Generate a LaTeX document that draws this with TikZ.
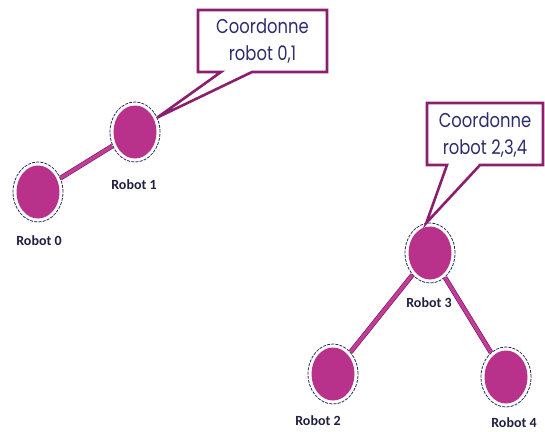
\documentclass[tikz,border=0pt]{standalone}
\usepackage{fontspec}
\usetikzlibrary{shapes.geometric}
\newfontfamily\labelfont{Carlito}
\newfontfamily\boxfont{Poppins}
\definecolor{robotfill}{HTML}{B8328C}
\definecolor{linkcore}{HTML}{C23C9A}
\definecolor{linkedge}{HTML}{7A1C5C}
\definecolor{rimcol}{HTML}{2A2A5A}
\definecolor{boxedge}{HTML}{8A1F6E}
\definecolor{boxtext}{HTML}{2E2E6E}
\definecolor{labeltext}{HTML}{1F1F3F}
\tikzset{
  x=1pt, y=-1pt,
  robot/.style={ellipse, minimum width=50pt, minimum height=60pt, inner sep=0pt,
    draw=rimcol, line width=0.8pt, dash pattern=on 3pt off 1.2pt, fill=white,
    path picture={\fill[robotfill] (path picture bounding box.center) ellipse (21.5pt and 26.5pt);}},
  robotlabel/.style={font=\labelfont\bfseries\fontsize{14}{16}\selectfont, text=labeltext, inner sep=0pt},
  link/.style={draw=linkedge, line width=0.7pt, double=linkcore, double distance=3.4pt},
  calloutshape/.style={draw=boxedge, line width=2.6pt, fill=white, line join=miter},
  callouttext/.style={font=\boxfont\fontsize{20}{27}\selectfont, text=boxtext, align=center, inner sep=0pt}
}
\begin{document}
\begin{tikzpicture}
\useasboundingbox (0,0) rectangle (545,431);

% robots
\node[robot] (r0) at (38,192) {};
\node[robot] (r1) at (135,132) {};
\node[robot] (r3) at (430,253) {};
\node[robot] (r2) at (333,374) {};
\node[robot] (r4) at (506,377) {};

% links between robots
\draw[link] (r0) -- (r1);
\draw[link] (r3) -- (r2);
\draw[link] (r3) -- (r4);

% robot names
\node[robotlabel] (l0) at (39,241) {Robot 0};
\node[robotlabel] (l1) at (134,185) {Robot 1};
\node[robotlabel] (l3) at (429,303) {Robot 3};
\node[robotlabel] (l2) at (318,421) {Robot 2};
\node[robotlabel] (l4) at (514,423) {Robot 4};

% first callout
\coordinate (b1nw) at (198,10);
\coordinate (b1se) at (327,72);
\coordinate (t1l) at (221,72);
\coordinate (t1r) at (252,72);
\coordinate (t1tip) at (r1.33);
\path[calloutshape] (b1nw) -- (b1nw -| b1se) -- (b1se) -- (t1r) -- (t1tip) -- (t1l) -- (b1nw |- b1se) -- cycle;
\node[callouttext] (c1) at (262.5,41) {\scalebox{0.82}[1]{Coordonne}\\\scalebox{0.82}[1]{robot 0,1}};

% second callout
\coordinate (b2nw) at (427,103);
\coordinate (b2se) at (543,165);
\coordinate (t2l) at (447,165);
\coordinate (t2r) at (480,165);
\coordinate (t2tip) at (r3.97);
\path[calloutshape] (b2nw) -- (b2nw -| b2se) -- (b2se) -- (t2r) -- (t2tip) -- (t2l) -- (b2nw |- b2se) -- cycle;
\node[callouttext] (c2) at (485,135.5) {\scalebox{0.82}[1]{Coordonne}\\\scalebox{0.82}[1]{robot 2,3,4}};
\end{tikzpicture}
\end{document}
